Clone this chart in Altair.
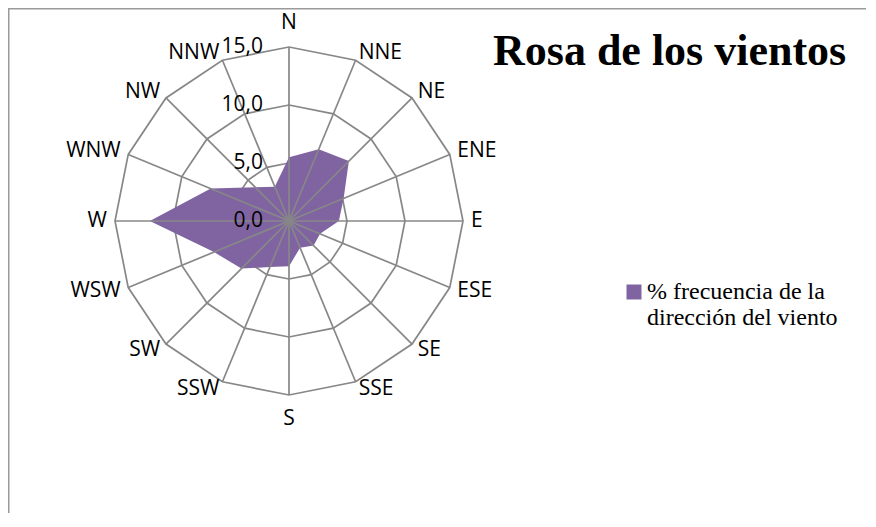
import altair as alt
import pandas as pd

# ---- data ----
direcciones = ["N", "NNE", "NE", "ENE", "E", "ESE", "SE", "SSE",
               "S", "SSW", "SW", "WSW", "W", "WNW", "NW", "NNW"]
frecuencia = [5.5, 6.7, 7.3, 5.1, 4.3, 2.9, 3.0, 2.5,
              3.9, 4.3, 5.8, 7.0, 12.0, 7.3, 4.1, 3.2]
anillos = [5, 10, 15]
ticks = [0, 5, 10, 15]
tick_labels = ["0,0", "5,0", "10,0", "15,0"]
serie = "% frecuencia de la\ndirección del viento"
titulo = "Rosa de los vientos"

# ---- style ----
PURPLE = "#8064A2"
GRID = "#878787"
W, H = 858, 505
PX = 11.6          # pixels per unit
CX, CY = 281, 213  # centre in chart pixels
xs = alt.Scale(domain=[-CX / PX, (W - CX) / PX], nice=False, zero=False)
ys = alt.Scale(domain=[(CY - H) / PX, CY / PX], nice=False, zero=False)
N = len(direcciones)

df = pd.DataFrame({"dir": direcciones, "idx": list(range(N)),
                   "valor": frecuencia, "serie": serie})
rings_df = pd.DataFrame([{"ring": r, "idx": i} for r in anillos for i in range(N)])
ticks_df = pd.DataFrame({"v": ticks, "lab": tick_labels})
title_df = pd.DataFrame({"t": [titulo]})
one = pd.DataFrame({"k": [0]})

theta = f"datum.idx * 2 * PI / {N}"

rings = alt.Chart(rings_df).transform_calculate(
    th=theta,
).transform_calculate(
    rx="datum.ring * sin(datum.th)", ry="datum.ring * cos(datum.th)"
).mark_line(interpolate="linear-closed", stroke=GRID, strokeWidth=1.7).encode(
    x=alt.X("rx:Q", scale=xs, axis=None),
    y=alt.Y("ry:Q", scale=ys, axis=None),
    detail="ring:N",
    order="idx:Q",
)

base = alt.Chart(df).transform_calculate(th=theta)

poly = base.transform_calculate(
    px="datum.valor * sin(datum.th)", py="datum.valor * cos(datum.th)"
).mark_line(interpolate="linear-closed", strokeWidth=0).encode(
    x=alt.X("px:Q", scale=xs, axis=None),
    y=alt.Y("py:Q", scale=ys, axis=None),
    order="idx:Q",
    fill=alt.Fill("serie:N", scale=alt.Scale(range=[PURPLE]), legend=alt.Legend(
        title=None, orient="none", legendX=614, legendY=272, padding=0,
        symbolType="square", symbolSize=225, symbolStrokeWidth=0,
        symbolFillColor=PURPLE,
        labelFont="Liberation Serif", labelFontSize=24, labelColor="black",
        labelOffset=1, labelLimit=400, labelBaseline="middle",
        labelExpr="split(datum.label, '\\n')",
    )),
)

spokes = base.transform_calculate(
    x0="0", y0="0",
    xe="15 * sin(datum.th)", ye="15 * cos(datum.th)",
).mark_rule(stroke=GRID, strokeWidth=1.7).encode(
    x=alt.X("x0:Q", scale=xs, axis=None),
    y=alt.Y("y0:Q", scale=ys, axis=None),
    x2="xe:Q", y2="ye:Q",
)

lab_base = base.transform_calculate(
    lr="abs(sin(datum.th)) < 0.01 ? 17.1 : 15.7",
).transform_calculate(
    lx="datum.lr * sin(datum.th)", ly="datum.lr * cos(datum.th)",
)
lab_style = dict(font="Open Sans", fontSize=21, color="black", baseline="middle")


def dir_labels(cond, align):
    return lab_base.transform_filter(cond).mark_text(align=align, **lab_style).encode(
        x=alt.X("lx:Q", scale=xs, axis=None),
        y=alt.Y("ly:Q", scale=ys, axis=None),
        text="dir:N",
    )


lab_r = dir_labels("sin(datum.th) > 0.01", "left")
lab_l = dir_labels("sin(datum.th) < -0.01", "right")
lab_c = dir_labels("abs(sin(datum.th)) <= 0.01", "center")

tick_text = alt.Chart(ticks_df).transform_calculate(x0="0").mark_text(
    align="right", baseline="middle", dx=-26, font="Open Sans", fontSize=21, color="black"
).encode(
    x=alt.X("x0:Q", scale=xs, axis=None),
    y=alt.Y("v:Q", scale=ys, axis=None),
    text="lab:N",
)

title = alt.Chart(title_df).mark_text(
    align="left", baseline="alphabetic", font="Liberation Serif",
    fontSize=44, fontWeight="bold", color="black"
).encode(x=alt.value(485), y=alt.value(57), text="t:N")

frame_top = alt.Chart(one).mark_rule(color="#9a9a9a", strokeWidth=1.5).encode(
    x=alt.value(0), x2=alt.value(W), y=alt.value(0.75))
frame_left = alt.Chart(one).mark_rule(color="#9a9a9a", strokeWidth=1.5).encode(
    x=alt.value(0.75), y=alt.value(0), y2=alt.value(H))

chart = alt.layer(
    rings, poly, spokes, lab_r, lab_l, lab_c, tick_text, title, frame_top, frame_left
).properties(
    width=W, height=H, padding=0,
    autosize=alt.AutoSizeParams(type="none"),
).configure_view(stroke="transparent")

chart.save("out.html", embed_options={"renderer": "svg", "actions": False})
